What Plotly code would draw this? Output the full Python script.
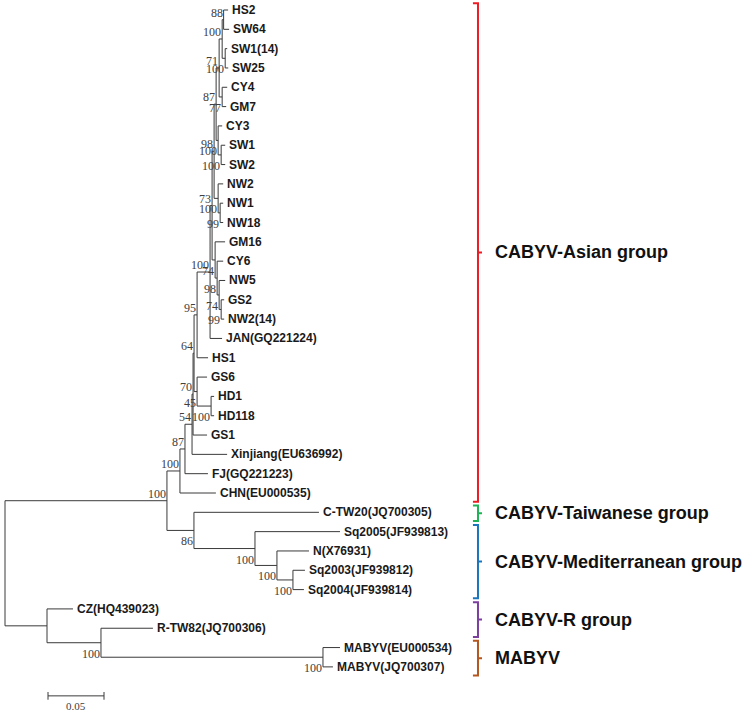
import plotly.graph_objects as go

# ---------------- data ----------------
node_names = [
    "root", "Nc", "Na", "N87", "N54", "N45", "N64", "N95", "NCore", "NTop", "J3", "J2", "J1",
    "NG", "Nhs", "HS2", "SW64", "N71", "SW1(14)", "SW25", "N77", "CY4", "GM7",
    "N98c", "CY3", "N100b", "SW1", "SW2", "N100n", "NW2", "N99c", "NW1", "NW18",
    "N74a", "GM16", "N98b", "CY6", "N74b", "NW5", "N99b", "GS2", "NW2(14)",
    "JAN(GQ221224)", "HS1", "N70", "GS6", "NHD", "HD1", "HD118", "GS1",
    "Xinjiang(EU636992)", "FJ(GQ221223)", "CHN(EU000535)",
    "N86", "C-TW20(JQ700305)", "NSq", "Sq2005(JF939813)", "NN", "N(X76931)", "NSq03",
    "Sq2003(JF939812)", "Sq2004(JF939814)",
    "NCZ", "CZ(HQ439023)", "NRT", "R-TW82(JQ700306)", "NMA", "MABYV(EU000534)", "MABYV(JQ700307)",
]
node_parents = [
    None, "root", "Nc", "Na", "N87", "N54", "N45", "N64", "N95", "NCore", "NTop", "J3", "J2",
    "J1", "NG", "Nhs", "Nhs", "NG", "N71", "N71", "J1", "N77", "N77",
    "J2", "N98c", "N98c", "N100b", "N100b", "J3", "N100n", "N100n", "N99c", "N99c",
    "NTop", "N74a", "N74a", "N98b", "N98b", "N74b", "N74b", "N99b", "N99b",
    "NCore", "N95", "N64", "N70", "N70", "NHD", "NHD", "N45",
    "N54", "N87", "Na",
    "Nc", "N86", "N86", "NSq", "NSq", "NN", "NN",
    "NSq03", "NSq03",
    "root", "NCZ", "NCZ", "NRT", "NRT", "NMA", "NMA",
]
branch_lengths = [
    0.0, 0.1446, 0.0116, 0.0045, 0.0063, 0.0009, 0.0009, 0.0027, 0.0116, 0.0018, 0.0018, 0.0018, 0.0027,
    0.0027, 0.0013, 0.0040, 0.0049, 0.0027, 0.0018, 0.0027, 0.0027, 0.0045, 0.0036,
    0.0018, 0.0036, 0.0027, 0.0036, 0.0036, 0.0036, 0.0045, 0.0018, 0.0027, 0.0027,
    0.0027, 0.0089, 0.0018, 0.0054, 0.0018, 0.0054, 0.0018, 0.0027, 0.0027,
    0.0107, 0.0098, 0.0027, 0.0089, 0.0125, 0.0027, 0.0027, 0.0125,
    0.0313, 0.0205, 0.0321,
    0.0241, 0.1116, 0.0545, 0.0759, 0.0196, 0.0286, 0.0143,
    0.0107, 0.0098,
    0.0375, 0.0232, 0.0482, 0.0464, 0.1982, 0.0152, 0.0089,
]
bootstrap = {
    "Nc": 100, "Na": 100, "N87": 87, "N54": 54, "N45": 70, "N64": 64, "N95": 95,
    "NCore": 100, "NTop": 73, "J3": 98, "J2": 87, "J1": 71, "NG": 100, "Nhs": 88,
    "N71": 100, "N77": 77, "N98c": 100, "N100b": 100, "N100n": 100, "N99c": 99,
    "N74a": 74, "N98b": 98, "N74b": 74, "N99b": 99, "N70": 45, "NHD": 100,
    "N86": 86, "NSq": 100, "NN": 100, "NSq03": 100, "NRT": 100, "NMA": 100,
}

group_names = ["CABYV-Asian group", "CABYV-Taiwanese group", "CABYV-Mediterranean group",
               "CABYV-R group", "MABYV"]
group_first = ["HS2", "C-TW20(JQ700305)", "Sq2005(JF939813)", "CZ(HQ439023)", "MABYV(EU000534)"]
group_last = ["CHN(EU000535)", "C-TW20(JQ700305)", "Sq2004(JF939814)", "R-TW82(JQ700306)", "MABYV(JQ700307)"]
group_colors = ["#ec1c24", "#1fb356", "#1b75bb", "#7b3f9e", "#b4561e"]

scale_length = 0.05
scale_label = "0.05"

# ---------------- layout of the tree ----------------
children = {n: [] for n in node_names}
for n, p in zip(node_names, node_parents):
    if p is not None:
        children[p].append(n)
depth = {}
for n, p, b in zip(node_names, node_parents, branch_lengths):
    depth[n] = 0.0 if p is None else depth[p] + b
leaves = [n for n in node_names if not children[n]]
ypos = {n: i for i, n in enumerate(leaves)}


def set_y(n):
    if n in ypos:
        return ypos[n]
    ys = [set_y(c) for c in children[n]]
    ypos[n] = (min(ys) + max(ys)) / 2
    return ypos[n]


set_y("root")
parent_of = dict(zip(node_names, node_parents))

lx, ly = [], []
for n in node_names:
    p = parent_of[n]
    if p is not None:
        lx += [depth[p], depth[n], None]
        ly += [ypos[n], ypos[n], None]
    if children[n]:
        cys = [ypos[c] for c in children[n]]
        lx += [depth[n], depth[n], None]
        ly += [min(cys), max(cys), None]

fig = go.Figure()
fig.add_trace(go.Scatter(x=lx, y=ly, mode="lines", line=dict(color="#3a3a3a", width=1),
                         hoverinfo="skip", showlegend=False))

annotations = []
for n in leaves:
    annotations.append(dict(x=depth[n], y=ypos[n], text="<b>" + n + "</b>", showarrow=False,
                            xanchor="left", yanchor="middle", xshift=2,
                            font=dict(family="Liberation Sans, Arial", size=12, color="#1a1a1a")))
for n, bs in bootstrap.items():
    upper = ypos[n] < ypos[parent_of[n]]
    annotations.append(dict(x=depth[n], y=ypos[n], text=str(bs), showarrow=False,
                            xanchor="right", yanchor="bottom" if upper else "top",
                            xshift=1, yshift=-2,
                            font=dict(family="Liberation Serif, Times New Roman", size=12, color="#404040")))

# scale bar
sb_x0 = 0.0384
sb_y = len(leaves) + 0.5
fig.add_trace(go.Scatter(x=[sb_x0, sb_x0 + scale_length, None, sb_x0, sb_x0, None,
                            sb_x0 + scale_length, sb_x0 + scale_length],
                         y=[sb_y, sb_y, None, sb_y - 0.2, sb_y + 0.2, None, sb_y - 0.2, sb_y + 0.2],
                         mode="lines", line=dict(color="#3a3a3a", width=1),
                         hoverinfo="skip", showlegend=False))
annotations.append(dict(x=sb_x0 + scale_length / 2, y=sb_y, text=scale_label, showarrow=False,
                        yanchor="middle", yshift=-10,
                        font=dict(family="Liberation Serif, Times New Roman", size=11, color="#404040")))

# group brackets
bx = 0.4223
hook = 0.0045
tick = 0.0036
for name, f, l, col in zip(group_names, group_first, group_last, group_colors):
    y0 = ypos[f] - 0.35
    y1 = ypos[l] + 0.45
    ym = (y0 + y1) / 2
    fig.add_trace(go.Scatter(x=[bx - hook, bx, bx, bx + tick, bx, bx, bx - hook],
                             y=[y0, y0, ym, ym, ym, y1, y1],
                             mode="lines", line=dict(color=col, width=2),
                             hoverinfo="skip", showlegend=False))
    annotations.append(dict(x=bx, y=ym, text="<b>" + name + "</b>", showarrow=False,
                            xanchor="left", yanchor="middle", xshift=15,
                            font=dict(family="Liberation Sans, Arial", size=18, color="#111111")))

px_per_unit = 1120.0
fig.update_layout(
    width=748, height=716,
    margin=dict(l=0, r=0, t=0, b=0),
    paper_bgcolor="white", plot_bgcolor="white",
    xaxis=dict(range=[-5 / px_per_unit, 743 / px_per_unit], visible=False, fixedrange=True),
    yaxis=dict(range=[(716 - 10) / 19.32, -10 / 19.32], visible=False, fixedrange=True),
    annotations=annotations,
    showlegend=False,
)
# remove the browser's default 8px body margin so the figure fills the window exactly
fig.write_html("out.html", config={"displayModeBar": False},
               post_script="document.body.style.margin='0px';")
